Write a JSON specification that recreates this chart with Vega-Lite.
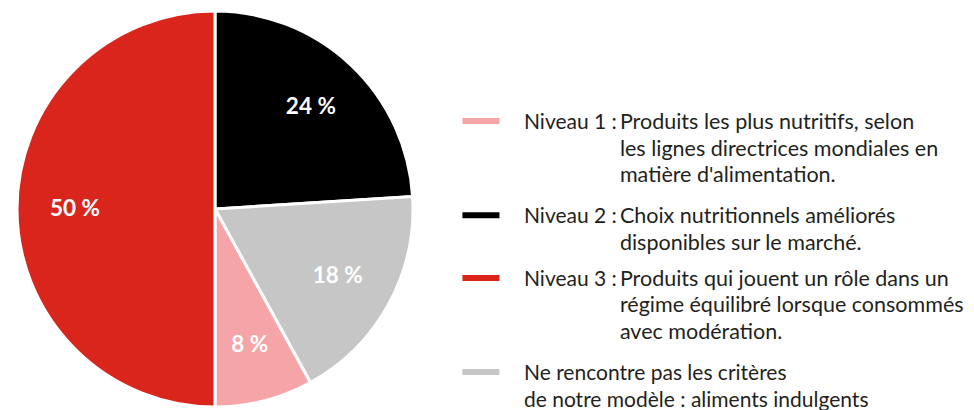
{
  "$schema": "https://vega.github.io/schema/vega-lite/v6.json",
  "padding": {"top": 5, "left": 0, "right": 0, "bottom": 0},
  "spacing": 0,
  "bounds": "flush",
  "config": {"view": {"stroke": null}, "font": "Lato"},
  "data": {"values": [
    {"cat": "Niveau 2", "value": 24, "rank": 1, "label": "24 %", "prefix": "Niveau 2 :", "body": ["Choix nutritionnels améliorés", "disponibles sur le marché."], "start": 3},
    {"cat": "Ne rencontre pas", "value": 18, "rank": 2, "label": "18 %", "prefix": ["Ne rencontre pas les critères", "de notre modèle : aliments indulgents"], "body": "", "start": 8},
    {"cat": "Niveau 1", "value": 8, "rank": 3, "label": "8 %", "prefix": "Niveau 1 :", "body": ["Produits les plus nutritifs, selon", "les lignes directrices mondiales en", "matière d'alimentation."], "start": 0},
    {"cat": "Niveau 3", "value": 50, "rank": 4, "label": "50 %", "prefix": "Niveau 3 :", "body": ["Produits qui jouent un rôle dans un", "régime équilibré lorsque consommés", "avec modération."], "start": 5}
  ]},
  "hconcat": [
    {
      "width": 430,
      "height": 400,
      "encoding": {
        "theta": {"field": "value", "type": "quantitative", "stack": true},
        "order": {"field": "rank", "type": "quantitative"}
      },
      "layer": [
        {
          "mark": {"type": "arc", "outerRadius": 198, "stroke": "white", "strokeWidth": 3},
          "encoding": {
            "color": {"field": "cat", "type": "nominal", "legend": null,
              "scale": {"domain": ["Niveau 1", "Niveau 2", "Niveau 3", "Ne rencontre pas"], "range": ["#f5a4a8", "#000000", "#da251d", "#c6c6c6"]}}
          }
        },
        {
          "mark": {"type": "text", "radius": 140, "fontSize": 22.5, "fontWeight": "bold", "color": "white"},
          "encoding": {"text": {"field": "label", "type": "nominal"}}
        }
      ]
    },
    {
      "width": 544,
      "height": 400,
      "encoding": {
        "y": {"field": "start", "type": "quantitative", "scale": {"domain": [0, 8], "range": [112, 363]}, "axis": null}
      },
      "layer": [
        {
          "mark": {"type": "tick", "orient": "horizontal", "size": 37, "thickness": 6, "opacity": 1},
          "encoding": {
            "x": {"datum": 51.5, "type": "quantitative", "axis": null, "scale": {"domain": [0, 544], "range": [0, 544]}},
            "color": {"field": "cat", "type": "nominal", "legend": null,
              "scale": {"domain": ["Niveau 1", "Niveau 2", "Niveau 3", "Ne rencontre pas"], "range": ["#f5a4a8", "#000000", "#da251d", "#c6c6c6"]}}
          }
        },
        {
          "mark": {"type": "text", "align": "left", "baseline": "top", "dy": -9, "lineHeight": 26.5, "fontSize": 21, "color": "#231f20"},
          "encoding": {
            "x": {"datum": 95, "type": "quantitative"},
            "text": {"field": "prefix"}
          }
        },
        {
          "mark": {"type": "text", "align": "left", "baseline": "top", "dy": -9, "lineHeight": 26.5, "fontSize": 21.5, "color": "#231f20"},
          "encoding": {
            "x": {"datum": 192, "type": "quantitative"},
            "text": {"field": "body"}
          }
        }
      ]
    }
  ]
}
